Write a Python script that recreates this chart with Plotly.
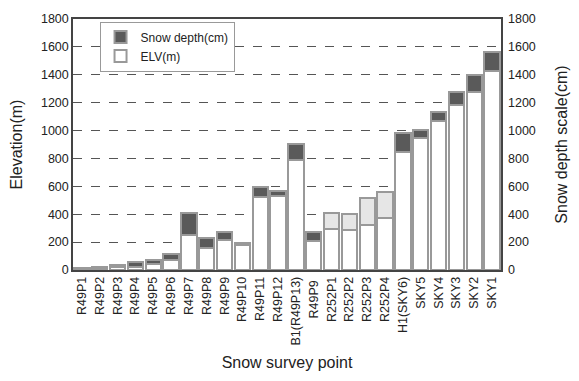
import plotly.graph_objects as go

categories = ["R49P1", "R49P2", "R49P3", "R49P4", "R49P5", "R49P6", "R49P7", "R49P8",
              "R49P9", "R49P10", "R49P11", "R49P12", "B1(R49P13)", "R49P9 ", "R252P1",
              "R252P2", "R252P3", "R252P4", "H1(SKY6)", "SKY5", "SKY4", "SKY3", "SKY2", "SKY1"]
elv_m = [10, 15, 20, 25, 45, 70, 250, 160, 215, 180, 520, 530, 790, 210, 295,
         290, 325, 375, 845, 945, 1070, 1180, 1280, 1425]
snow_cm = [5, 5, 15, 30, 25, 45, 160, 70, 60, 12, 75, 40, 115, 65, 115,
           110, 190, 185, 140, 60, 60, 100, 115, 135]
y_ticks = [0, 200, 400, 600, 800, 1000, 1200, 1400, 1600, 1800]

snow_colors = ["#e6e6e6" if c.startswith("R252") else "#5a5a5a" for c in categories]
totals = [e + s for e, s in zip(elv_m, snow_cm)]

fig = go.Figure()
fig.add_trace(go.Bar(x=categories, y=elv_m, name="ELV(m)",
                     marker=dict(color="white", line=dict(color="#999999", width=2))))
fig.add_trace(go.Bar(x=categories, y=snow_cm, name="Snow depth(cm)",
                     marker=dict(color=snow_colors, line=dict(color="#999999", width=2))))
# invisible trace so the right-hand snow depth scale is drawn
fig.add_trace(go.Scatter(x=categories, y=totals, yaxis="y2", mode="markers",
                         marker=dict(opacity=0), showlegend=False, hoverinfo="skip"))

font = "Liberation Sans, Arial, sans-serif"
fig.update_layout(
    width=579, height=381,
    margin=dict(l=73, r=71, t=13, b=109),
    barmode="stack", bargap=0.14,
    plot_bgcolor="white", paper_bgcolor="white",
    font=dict(family=font, size=12, color="#222"),
    legend=dict(x=0.062, y=0.99, xanchor="left", yanchor="top",
                traceorder="reversed", bordercolor="#999", borderwidth=1,
                bgcolor="white", font=dict(size=12, color="#222"),
                itemwidth=30, tracegroupgap=0),
    xaxis=dict(tickangle=-90, showline=True, linecolor="#444", linewidth=1.5,
               mirror=True, ticks="", range=[-0.5, len(categories) - 0.5],
               title=dict(text="Snow survey point", font=dict(size=16), standoff=12),
               tickfont=dict(size=12.5)),
    yaxis=dict(range=[0, 1800], tickvals=y_ticks, showline=True, linecolor="#444",
               linewidth=1.5, mirror=True, showgrid=True, gridcolor="#555",
               griddash="dash", gridwidth=1, zeroline=False, tickfont=dict(size=12.5),
               title=dict(text="Elevation(m)", font=dict(size=16), standoff=14)),
    yaxis2=dict(range=[0, 1800], tickvals=y_ticks, overlaying="y", side="right",
                showgrid=False, zeroline=False, tickfont=dict(size=12.5), ticklabelstandoff=6,
                title=dict(text="Snow depth scale(cm)", font=dict(size=16), standoff=20)),
)
fig.write_html("out.html")
